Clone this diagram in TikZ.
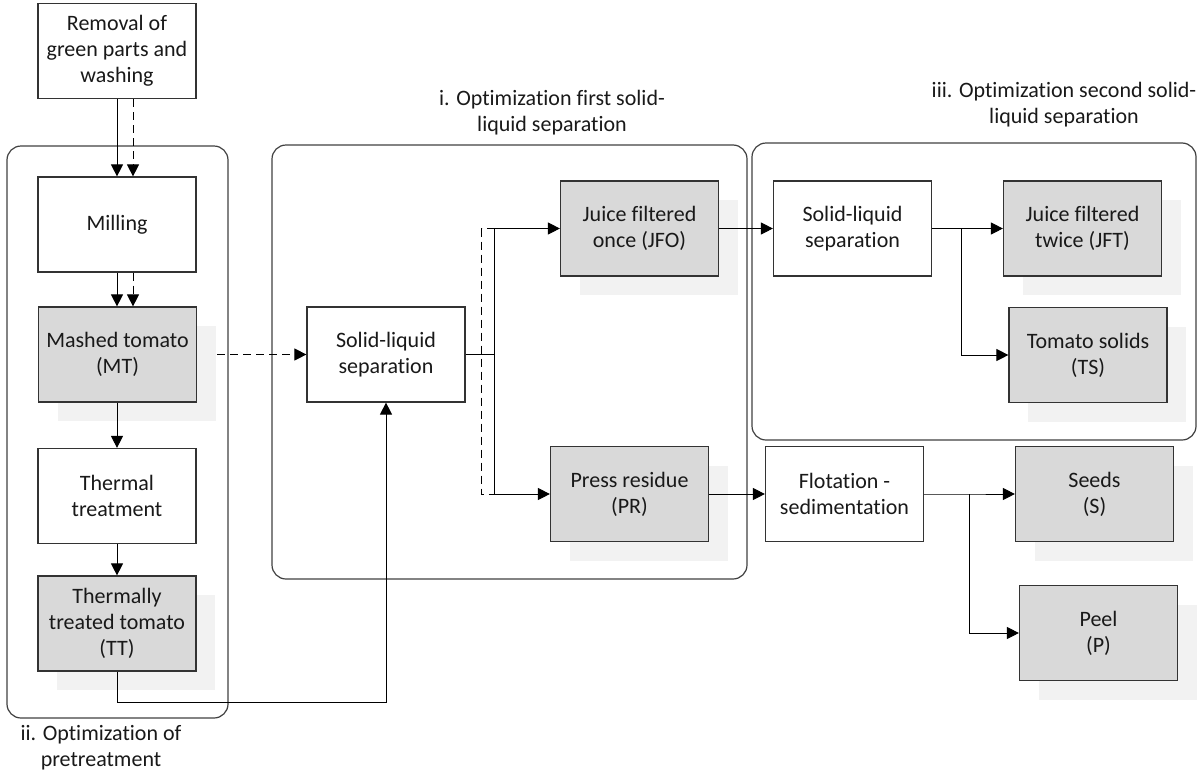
\documentclass[tikz,border=0pt]{standalone}
\usepackage{fontspec}
\setmainfont{Carlito}[RawFeature={-liga;-clig;-calt;-dlig;-rlig}]
\usetikzlibrary{arrows.meta,calc,shadows}
\tikzset{
  stepbox/.style={draw=black!80,line width=0.6pt,fill=white,minimum width=79pt,
    minimum height=47.5pt,align=center,inner sep=2pt},
  prodbox/.style={stepbox,fill=black!15,
    drop shadow={shadow xshift=9.5pt,shadow yshift=-9.5pt,fill=black!5,opacity=1}},
  group/.style={draw=black!75,line width=0.6pt,rounded corners=7pt},
  grouplabel/.style={align=center},
  every node/.style={font=\fontsize{11}{13}\selectfont,text=black!90}
}
\tikzstyle{arrow} = [line width=0.5pt,-{Triangle[length=6pt,width=6pt]}]
\tikzstyle{dasharrow} = [arrow,dash pattern=on 4pt off 2.5pt]

\begin{document}
\begin{tikzpicture}[x=0.5pt,y=-0.5pt]
  \useasboundingbox (0,0) rectangle (1197,771);
  % optimization groups
  \draw[group] (7,146) rectangle (228,718);
  \draw[group] (272,145) rectangle (747,579);
  \draw[group] (752,143) rectangle (1196,440);
  \node[grouplabel] (lblii) at (101,748) {ii. Optimization of\\pretreatment};
  \node[grouplabel] (lbli) at (552,112.5) {i. Optimization first solid-\\liquid separation};
  \node[grouplabel] (lbliii) at (1064,105) {iii. Optimization second solid-\\liquid separation};
  % pretreatment
  \node[stepbox] (wash) at (117,51) {Removal of\\green parts and\\washing};
  \node[stepbox] (mill) at (117,224.5) {Milling};
  \node[prodbox] (mt) at (117.5,354.5) {Mashed tomato\\(MT)};
  \node[stepbox] (heat) at (117,496) {Thermal\\treatment};
  \node[prodbox] (tt) at (117,623.5) {Thermally\\treated tomato\\(TT)};
  % separations
  \node[stepbox] (sl1) at (386,354.5) {Solid-liquid\\separation};
  \node[prodbox] (jfo) at (639.5,228.5) {Juice filtered\\once (JFO)};
  \node[prodbox] (pr) at (629.5,494) {Press residue\\(PR)};
  \node[stepbox] (sl2) at (852.5,228.5) {Solid-liquid\\separation};
  \node[prodbox] (jft) at (1082.5,228.5) {Juice filtered\\twice (JFT)};
  \node[prodbox] (ts) at (1088,355) {Tomato solids\\(TS)};
  \node[stepbox] (flot) at (844.5,494) {Flotation -\\sedimentation};
  \node[prodbox] (seeds) at (1094.5,494) {Seeds\\(S)};
  \node[prodbox] (peel) at (1098.5,633) {Peel\\(P)};
  % connectors
  \draw[arrow] (wash.south) -- (mill.north);
  \draw[dasharrow] ([xshift=8pt]wash.south) -- ([xshift=8pt]mill.north);
  \draw[arrow] (mill.south) -- (mt.north -| mill.south);
  \draw[dasharrow] ([xshift=8pt]mill.south) -- ([xshift=8pt]mt.north -| mill.south);
  \draw[arrow] (mt.south -| heat.north) -- (heat.north);
  \draw[arrow] (heat.south) -- (tt.north);
  \coordinate (ret) at (386,702);
  \draw[arrow] (tt.south) |- (ret) -- (sl1.south);
  \draw[dasharrow] ([xshift=10pt]mt.east) -- (sl1.west);
  \draw[arrow] (sl1.east) -- ++(29,0) coordinate (b1) |- (jfo.west);
  \draw[arrow] (b1) |- (pr.west);
  \draw[dash pattern=on 4pt off 2.5pt,line width=0.5pt] (b1 |- jfo.west) -- ++(-13,0) |- (b1 |- pr.west);
  \draw[arrow] (jfo.east) -- (sl2.west);
  \draw[arrow] (sl2.east) -- ++(29,0) coordinate (b2) |- (jft.west);
  \draw[arrow] (b2) |- (ts.west);
  \draw[arrow] (pr.east) -- (flot.west);
  \draw[arrow] (flot.east) -- ++(45,0) coordinate (b3) |- (seeds.west);
  \draw[arrow] (b3) |- (peel.west);
\end{tikzpicture}
\end{document}
